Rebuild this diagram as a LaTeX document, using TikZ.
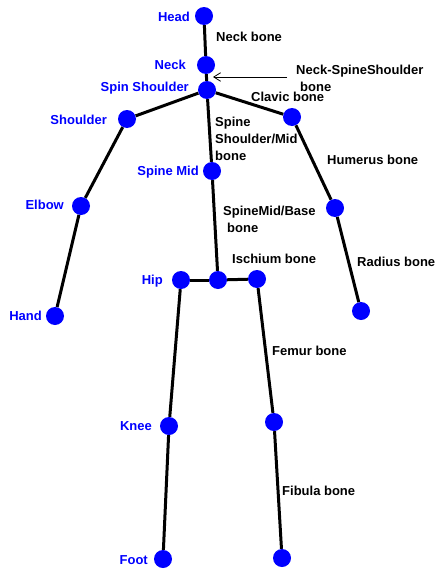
\documentclass[tikz,border=0pt]{standalone}
\usepackage{fontspec}
\setmainfont{Liberation Sans}
\usetikzlibrary{arrows.meta}
\definecolor{joint}{HTML}{0000FF}
\tikzset{jointdot/.style={circle,fill=joint,draw=none,minimum size=18pt,inner sep=0pt},
  jointname/.style={text=joint,font=\fontsize{13}{16}\selectfont\bfseries,inner sep=0pt,anchor=base east},
  bonename/.style={font=\fontsize{13}{17}\selectfont\bfseries,inner sep=0pt,anchor=base west},
  bonenote/.style={font=\fontsize{13}{17}\selectfont\bfseries,inner sep=0pt,anchor=north west,align=left},
  boneline/.style={line width=3pt,black},
  pointer/.style={line width=.8pt,-{Straight Barb[length=2.4mm,width=3mm]}}}
\begin{document}
\begin{tikzpicture}[x=1pt,y=-1pt]
\useasboundingbox (0,0) rectangle (435,570);
% joints
\node[jointdot] (head) at (204,16) {};\node[jointdot] (neck) at (206,65) {};
\node[jointdot] (spsh) at (207,90) {};\node[jointdot] (spmid) at (212,171) {};
\node[jointdot] (spbase) at (218,280) {};
\node[jointdot] (shl) at (127,119) {};\node[jointdot] (shr) at (292,117) {};
\node[jointdot] (elbl) at (81,206) {};\node[jointdot] (elbr) at (335,208) {};
\node[jointdot] (handl) at (55,316) {};\node[jointdot] (handr) at (361,311) {};
\node[jointdot] (hipl) at (181,280) {};\node[jointdot] (hipr) at (257,279) {};
\node[jointdot] (kneel) at (169,426) {};\node[jointdot] (kneer) at (274,422) {};
\node[jointdot] (footl) at (163,559) {};\node[jointdot] (footr) at (282,558) {};
% bones
\foreach \a/\b in {head/neck,neck/spsh,spsh/shl,spsh/shr,spsh/spmid,spmid/spbase,spbase/hipl,spbase/hipr,
  shl/elbl,elbl/handl,shr/elbr,elbr/handr,hipl/kneel,kneel/footl,hipr/kneer,kneer/footr}
  \draw[boneline] (\a) -- (\b);
% joint names
\node[jointname] (headtxt) at (190,21) {Head};\node[jointname] (necktxt) at (186,69) {Neck};
\node[jointname] (spshtxt) at (189,91.5) {Spin Shoulder};\node[jointname] (shtxt) at (107,124.5) {Shoulder};
\node[jointname] (spmidtxt) at (199,175.5) {Spine Mid};\node[jointname] (elbtxt) at (64,209.5) {Elbow};
\node[jointname] (handtxt) at (42,320.5) {Hand};\node[jointname] (hiptxt) at (163,284.5) {Hip};
\node[jointname] (kneetxt) at (152,430.5) {Knee};\node[jointname] (foottxt) at (148,564.5) {Foot};
% bone names
\node[bonename] (neckbone) at (216,41.5) {Neck bone};
\node[bonename] (clavbone) at (251,101.5) {Clavic bone};
\node[bonename] (humbone) at (327,164.5) {Humerus bone};
\node[bonename] (ischbone) at (232,263.5) {Ischium bone};
\node[bonename] (radbone) at (357,266.5) {Radius bone};
\node[bonename] (fembone) at (272,355.5) {Femur bone};
\node[bonename] (fibbone) at (282,495.5) {Fibula bone};
\node[bonenote] (nsbone) at (296,65) {Neck-SpineShoulder\\\hspace*{4pt}bone};
\node[bonenote] (smbone) at (215,117) {Spine\\Shoulder/Mid\\bone};
\node[bonenote] (sbbone) at (223,206) {SpineMid/Base\\\hspace*{4pt}bone};
\coordinate (nstip) at (213,77);
\draw[pointer] ([xshift=-9pt]nsbone.west |- nstip) -- (nstip);
\end{tikzpicture}
\end{document}
